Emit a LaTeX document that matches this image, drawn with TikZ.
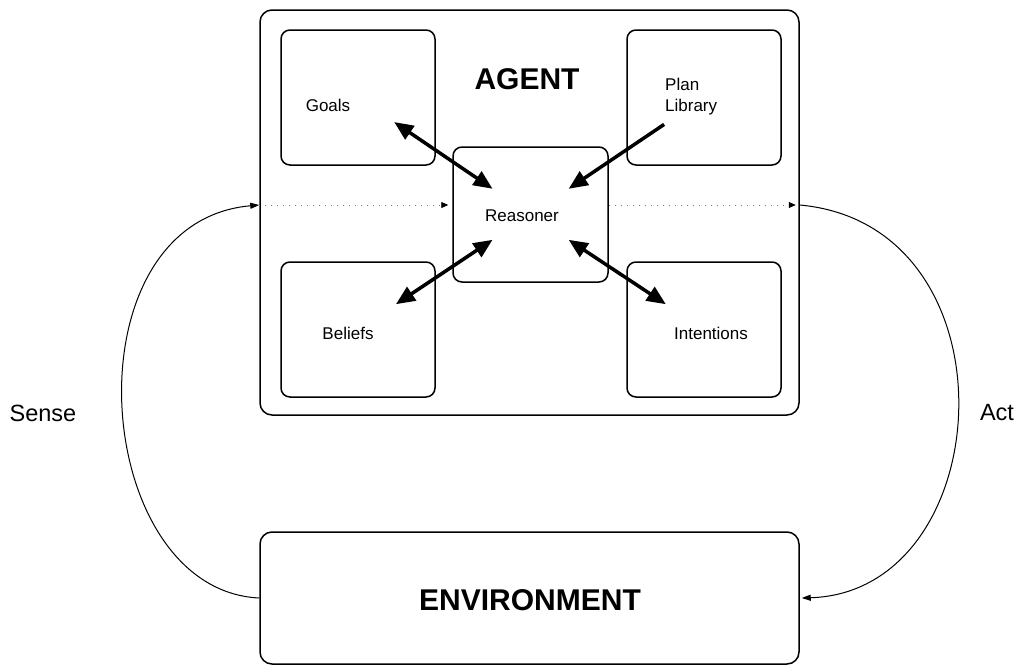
\documentclass[tikz,border=0pt]{standalone}
\usepackage{fontspec}
\setmainfont{Liberation Sans}
\usetikzlibrary{arrows.meta,calc}

\tikzset{
  box/.style={draw=black, line width=1.5pt, rounded corners=9pt, inner sep=0pt},
  lbl/.style={font=\fontsize{17}{21}\selectfont, inner sep=0pt},
  title/.style={font=\fontsize{30}{34}\selectfont\bfseries, inner sep=0pt},
  side/.style={font=\fontsize{23.5}{27}\selectfont, inner sep=0pt},
  link/.style={line width=3.5pt, -{Triangle[length=19pt,width=16pt]}},
  dlink/.style={line width=3.5pt, {Triangle[length=19pt,width=16pt]}-{Triangle[length=19pt,width=16pt]}},
  flow/.style={line width=1pt, -{Triangle[length=9pt,width=6pt]}},
  inner/.style={draw=black!50, line width=0.8pt, dash pattern=on 1pt off 5pt,
                -{Triangle[length=7pt,width=6pt,fill=black,color=black]}}
}

\begin{document}
\begin{tikzpicture}[x=1pt, y=-1pt]
  \useasboundingbox (0,0) rectangle (1025,664);

  % outer boxes
  \node[box, minimum width=539pt, minimum height=405pt, rounded corners=12pt] (agent) at (529.5,212.5) {};
  \node[box, minimum width=539pt, minimum height=132pt, rounded corners=12pt] (env) at (529.5,598) {};

  % components of the agent
  \node[box, minimum width=154pt, minimum height=135pt] (goals)  at (358,97.5) {};
  \node[box, minimum width=154pt, minimum height=135pt] (plan)   at (704,97.5) {};
  \node[box, minimum width=154pt, minimum height=135pt] (beliefs) at (358,329.5) {};
  \node[box, minimum width=154pt, minimum height=135pt] (intent) at (704,329.5) {};
  \node[box, minimum width=155pt, minimum height=135pt, fill=white] (reasoner) at (530.5,214.5) {};

  % texts
  \node[title] (agenttxt) at (527,79) {AGENT};
  \node[title] (envtxt) at (530,600) {ENVIRONMENT};
  \node[lbl] (goalstxt) at (328,105) {Goals};
  \node[lbl, anchor=west, align=left] (plantxt) at (665,97) {Plan\\Library};
  \node[lbl] (reasontxt) at (522,216) {Reasoner};
  \node[lbl] (belieftxt) at (348,333) {Beliefs};
  \node[lbl] (intenttxt) at (711,333) {Intentions};
  \node[side] (sensetxt) at (43,413) {Sense};
  \node[side] (acttxt) at (997,413) {Act};

  % links between the reasoner and the components
  \draw[dlink] ($(goals.center)!0.21!(reasoner.center)$) -- ($(goals.center)!0.78!(reasoner.center)$);
  \draw[link]  ($(plan.center)!0.23!(reasoner.center)$) -- ($(plan.center)!0.78!(reasoner.center)$);
  \draw[dlink] ($(beliefs.center)!0.22!(reasoner.center)$) -- ($(beliefs.center)!0.78!(reasoner.center)$);
  \draw[dlink] ($(intent.center)!0.22!(reasoner.center)$) -- ($(intent.center)!0.78!(reasoner.center)$);

  % perception and action
  \coordinate (sensein) at (agent.west |- 0,205);
  \coordinate (reasonin) at (reasoner.west |- 0,205);
  \coordinate (reasonout) at (reasoner.east |- 0,205);
  \coordinate (actout) at (agent.east |- 0,205);
  \coordinate (envleft) at (env.west);
  \coordinate (envright) at (env.east);

  \draw[inner, shorten >=4pt] (sensein) -- (reasonin);
  \draw[inner, shorten >=4pt] (reasonout) -- (actout);

  \draw[flow] (envleft) .. controls (90,590) and (65,222) .. (sensein);
  \draw[flow] (actout) .. controls (1020,225) and (1000,592) .. ([xshift=2pt]envright);
\end{tikzpicture}
\end{document}
